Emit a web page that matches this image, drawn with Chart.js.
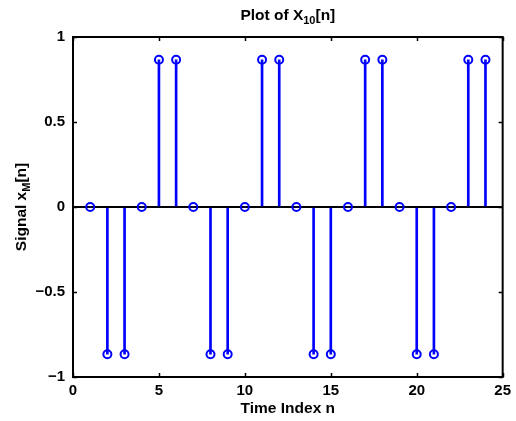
<!DOCTYPE html>
<html>
<head>
<meta charset="utf-8">
<script src="https://cdn.jsdelivr.net/npm/chart.js@4/dist/chart.umd.min.js"></script>
<style>
html,body{margin:0;padding:0;background:#fff;}
#c{display:block;}
</style>
</head>
<body>
<canvas id="c" width="516" height="421"></canvas>
<script>
// Data
const sampleIndex = [1,2,3,4,5,6,7,8,9,10,11,12,13,14,15,16,17,18,19,20,21,22,23,24];
const signalValues = [0,-0.866,-0.866,0,0.866,0.866,0,-0.866,-0.866,0,0.866,0.866,0,-0.866,-0.866,0,0.866,0.866,0,-0.866,-0.866,0,0.866,0.866];
const xTicks = [0,5,10,15,20,25];
const yTicks = [-1,-0.5,0,0.5,1];

const FONT = '"Liberation Sans", Arial, Helvetica, sans-serif';
const points = sampleIndex.map((n,i)=>({x:n,y:signalValues[i]}));
const fmt = v => (v<0 ? '\u2212' : '') + String(Math.abs(v));

const framePlugin = {
  id:'frame',
  afterDraw(chart){
    const {ctx, chartArea:a, scales:{x,y}} = chart;
    ctx.save();
    ctx.strokeStyle='#000';
    ctx.lineWidth=2;
    ctx.strokeRect(a.left,a.top,a.right-a.left,a.bottom-a.top);
    ctx.lineWidth=1.5;
    const tl=4;
    ctx.beginPath();
    xTicks.forEach(v=>{
      const px=Math.round(x.getPixelForValue(v))+0.5;
      ctx.moveTo(px,a.bottom); ctx.lineTo(px,a.bottom-tl);
      ctx.moveTo(px,a.top); ctx.lineTo(px,a.top+tl);
    });
    yTicks.forEach(v=>{
      const py=Math.round(y.getPixelForValue(v))+0.5;
      ctx.moveTo(a.left,py); ctx.lineTo(a.left+tl,py);
      ctx.moveTo(a.right,py); ctx.lineTo(a.right-tl,py);
    });
    ctx.stroke();

    function subText(parts, cx, cy){
      let w=0;
      parts.forEach(p=>{ ctx.font = p[1] ? 'bold 11px '+FONT : 'bold 15.5px '+FONT; w+=ctx.measureText(p[0]).width; });
      let xx=cx-w/2;
      ctx.textBaseline='alphabetic';
      ctx.textAlign='left';
      parts.forEach(p=>{
        ctx.font = p[1] ? 'bold 11px '+FONT : 'bold 15.5px '+FONT;
        ctx.fillText(p[0], xx, cy + (p[1]?4:0));
        xx+=ctx.measureText(p[0]).width;
      });
    }
    ctx.fillStyle='#000';
    subText([['Plot of X',false],['10',true],['[n]',false]], (a.left+a.right)/2, 20);
    subText([['Time Index n',false]], (a.left+a.right)/2, 413);
    ctx.save();
    ctx.translate(26,(a.top+a.bottom)/2);
    ctx.rotate(-Math.PI/2);
    subText([['Signal x',false],['M',true],['[n]',false]], 0, 0);
    ctx.restore();
    ctx.restore();
  }
};

new Chart(document.getElementById('c'),{
  type:'bar',
  data:{
    datasets:[
      {
        type:'scatter',
        data:points,
        pointStyle:'circle',
        pointRadius:4,
        pointBorderWidth:2,
        borderColor:'#0000ff',
        backgroundColor:'rgba(0,0,0,0)',
        showLine:false,
        order:0
      },
      {
        type:'bar',
        data:points,
        backgroundColor:'#0000ff',
        borderWidth:0,
        barThickness:2,
        order:1
      }
    ]
  },
  options:{
    responsive:false,
    animation:false,
    devicePixelRatio:1,
    layout:{padding:{left:0,right:9,top:37,bottom:0}},
    plugins:{legend:{display:false},tooltip:{enabled:false},title:{display:false}},
    scales:{
      x:{
        type:'linear',
        offset:false,
        min:0,max:25,
        afterBuildTicks:s=>{s.ticks=xTicks.map(v=>({value:v}));},
        afterFit:s=>{s.height=44;},
        grid:{display:false,drawTicks:false,offset:false},
        border:{display:false},
        ticks:{padding:5,color:'#000',font:{family:FONT,size:15,weight:'bold'},maxRotation:0,callback:v=>fmt(v)}
      },
      y:{
        type:'linear',
        min:-1,max:1,
        afterBuildTicks:s=>{s.ticks=yTicks.map(v=>({value:v}));},
        afterFit:s=>{s.width=73;},
        grid:{drawTicks:false,lineWidth:2,color:c=>c.tick && c.tick.value===0 ? '#000' : 'rgba(0,0,0,0)'},
        border:{display:false},
        ticks:{padding:8,color:'#000',font:{family:FONT,size:15,weight:'bold'},callback:v=>fmt(v)}
      }
    }
  },
  plugins:[framePlugin]
});
</script>
</body>
</html>
